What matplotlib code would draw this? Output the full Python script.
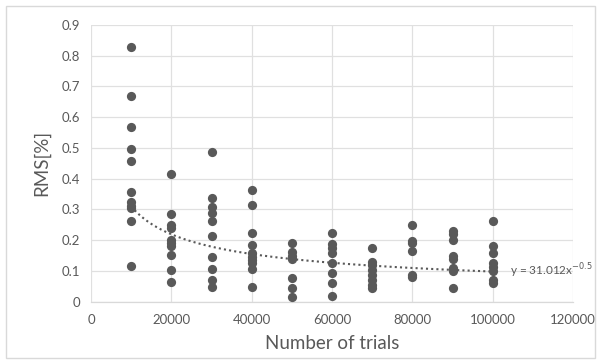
import numpy as np
import matplotlib
matplotlib.use("Agg")
import matplotlib.pyplot as plt
from matplotlib.patches import Rectangle

plt.rcParams['font.family'] = ['Lato', 'DejaVu Sans']

# RMS values (%) measured for each number of trials
trials = [10000, 20000, 30000, 40000, 50000, 60000, 70000, 80000, 90000, 100000]
rms_10k = [0.830, 0.668, 0.568, 0.496, 0.457, 0.356, 0.323, 0.312, 0.305, 0.263, 0.116]
rms_20k = [0.415, 0.284, 0.250, 0.240, 0.200, 0.190, 0.180, 0.151, 0.103, 0.065]
rms_30k = [0.488, 0.338, 0.307, 0.288, 0.264, 0.214, 0.146, 0.105, 0.071, 0.047]
rms_40k = [0.364, 0.315, 0.225, 0.186, 0.157, 0.145, 0.136, 0.125, 0.106, 0.049]
rms_50k = [0.190, 0.163, 0.149, 0.140, 0.076, 0.043, 0.016]
rms_60k = [0.222, 0.187, 0.174, 0.160, 0.125, 0.092, 0.062, 0.020]
rms_70k = [0.176, 0.130, 0.119, 0.103, 0.087, 0.071, 0.054, 0.044]
rms_80k = [0.250, 0.197, 0.190, 0.165, 0.087, 0.081]
rms_90k = [0.231, 0.219, 0.201, 0.149, 0.138, 0.111, 0.100, 0.044]
rms_100k = [0.264, 0.181, 0.157, 0.127, 0.114, 0.100, 0.071, 0.062]
rms_groups = [rms_10k, rms_20k, rms_30k, rms_40k, rms_50k,
              rms_60k, rms_70k, rms_80k, rms_90k, rms_100k]

# Power-law fit y = a * x^b
fit_a = 31.012
fit_b = -0.5

x_ticks = [0, 20000, 40000, 60000, 80000, 100000, 120000]
y_ticks = [0, 0.1, 0.2, 0.3, 0.4, 0.5, 0.6, 0.7, 0.8, 0.9]

W, H = 601, 364
fig = plt.figure(figsize=(W / 100, H / 100), dpi=100)
ax = fig.add_axes([91 / W, 1 - 301.7 / H, (573 - 91) / W, (301.7 - 25) / H])

# outer chart frame
fig.patches.append(Rectangle((6 / W, 6 / H), (W - 12) / W, (H - 12) / H,
                             transform=fig.transFigure, fill=False,
                             edgecolor='#d9d9d9', linewidth=1.0))

text_color = '#595959'
grid_color = '#e0e0e0'
point_color = '#595959'

xs = np.concatenate([[t] * len(g) for t, g in zip(trials, rms_groups)])
ys = np.concatenate(rms_groups)
ax.scatter(xs, ys, s=44, color=point_color, zorder=3, linewidths=0)

xfit = np.linspace(trials[0], trials[-1], 300)
ax.plot(xfit, fit_a * xfit ** fit_b, linestyle=(0, (1, 1.5)), color=point_color,
        linewidth=1.5, zorder=2)

ax.text(104300, 0.102, 'y = 31.012x$^{-0.5}$', color=text_color,
        fontsize=8.5, va='center', ha='left', clip_on=False)

ax.set_xlim(0, 120000)
ax.set_ylim(0, 0.9)
ax.set_xticks(x_ticks)
ax.set_yticks(y_ticks)
ax.set_xticklabels([str(v) for v in x_ticks])
ax.set_yticklabels(['0'] + [f'{v:.1f}' for v in y_ticks[1:]])
ax.grid(True, color=grid_color, linewidth=0.9, zorder=0)
ax.set_axisbelow(True)
for side in ['top', 'right', 'left']:
    ax.spines[side].set_visible(False)
ax.spines['bottom'].set_color('#d9d9d9')
ax.spines['bottom'].set_linewidth(0.9)
ax.tick_params(axis='both', length=0, colors=text_color, labelsize=9.5)
ax.tick_params(axis='x', pad=9)
ax.tick_params(axis='y', pad=8)

ax.set_xlabel('Number of trials', fontsize=13.5, color=text_color, labelpad=6)
ax.set_ylabel('RMS[%]', fontsize=13.5, color=text_color, labelpad=8)

fig.savefig('out.png', dpi=100)
